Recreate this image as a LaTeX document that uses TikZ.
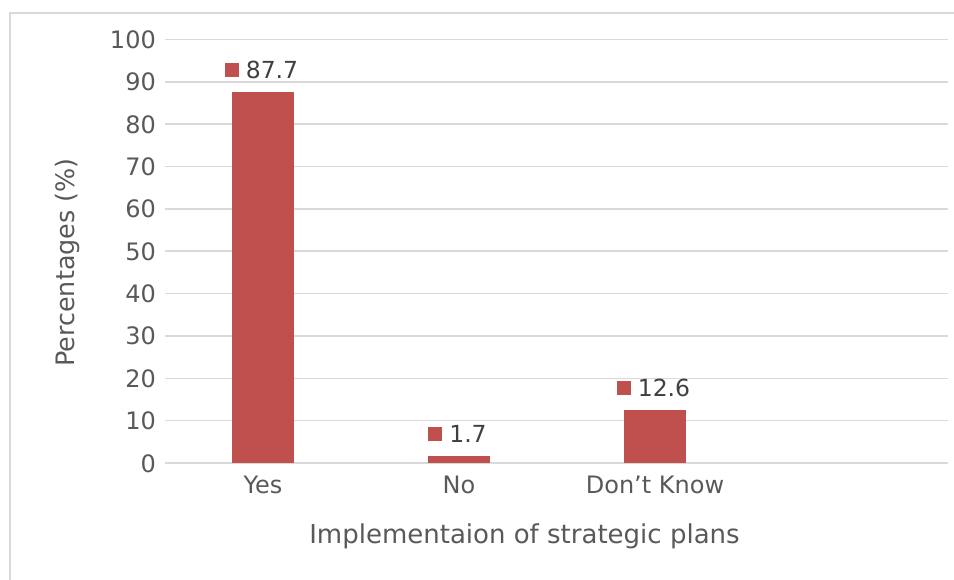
\documentclass[tikz,border=0pt]{standalone}
\usepackage{fontspec}
\setmainfont{DejaVu Sans}
\definecolor{barred}{HTML}{C0504D}
\definecolor{gridgray}{HTML}{D9D9D9}
\definecolor{ticktext}{HTML}{595959}
\definecolor{labeltext}{HTML}{404040}
\newcommand{\labelmark}{\textcolor{barred}{\rule[1.5pt]{14pt}{14pt}}\hspace{7pt}}
\tikzset{
    gridline/.style={draw=gridgray,line width=1.6pt},
    bar/.style={fill=barred}
}

\begin{document}
\begin{tikzpicture}[x=1pt,y=-1pt]
        \useasboundingbox (0,0) rectangle (954,580);
        \clip (0,0) rectangle (954,580);
        \draw[gridgray,line width=1.6pt] (10,600) -- (10,13) -- (970,13);
        % grid
        \path[gridline] (165,463) -- (948,463);
        \path[gridline] (165,420.65) -- (948,420.65);
        \path[gridline] (165,378.3) -- (948,378.3);
        \path[gridline] (165,335.95) -- (948,335.95);
        \path[gridline] (165,293.6) -- (948,293.6);
        \path[gridline] (165,251.25) -- (948,251.25);
        \path[gridline] (165,208.9) -- (948,208.9);
        \path[gridline] (165,166.55) -- (948,166.55);
        \path[gridline] (165,124.2) -- (948,124.2);
        \path[gridline] (165,81.85) -- (948,81.85);
        \path[gridline] (165,39.5) -- (948,39.5);
        % bars
        \path[bar] (232,463) rectangle (294,91.6);
        \path[bar] (428,463) rectangle (490,455.8);
        \path[bar] (624,463) rectangle (686,409.6);
        \begin{scope}[every node/.style={anchor=base east,inner sep=0pt,text=ticktext,font=\fontsize{24}{28}\selectfont}]
            \node (t0) at (156,472) {0};
            \node (t10) at (156,429.65) {10};
            \node (t20) at (156,387.3) {20};
            \node (t30) at (156,344.95) {30};
            \node (t40) at (156,302.6) {40};
            \node (t50) at (156,260.25) {50};
            \node (t60) at (156,217.9) {60};
            \node (t70) at (156,175.55) {70};
            \node (t80) at (156,133.2) {80};
            \node (t90) at (156,90.85) {90};
            \node (t100) at (156,48.5) {100};
        \end{scope}
        \begin{scope}[every node/.style={anchor=base,inner sep=0pt,text=ticktext,font=\fontsize{24}{28}\selectfont}]
            \node (yes) at (263,493) {Yes};
            \node (no) at (459,493) {No};
            \node (dontknow) at (655,493) {Don’t Know};
        \end{scope}
        \begin{scope}[every node/.style={anchor=base,inner sep=0pt,text=labeltext,font=\fontsize{23.5}{28}\selectfont}]
            \node (v1) at (261.5,78.6) {\labelmark 87.7};
            \node (v2) at (457.5,442.8) {\labelmark 1.7};
            \node (v3) at (653.5,396.6) {\labelmark 12.6};
        \end{scope}
        \node[anchor=base,inner sep=0pt,text=ticktext,font=\fontsize{26}{30}\selectfont] (xtitle) at (524.5,543) {Implementaion of strategic plans};
        \node[anchor=base,rotate=90,inner sep=0pt,text=ticktext,font=\fontsize{25.4}{30}\selectfont] (ytitle) at (74.2,262.5) {Percentages (\%)};
    \end{tikzpicture}
\end{document}
